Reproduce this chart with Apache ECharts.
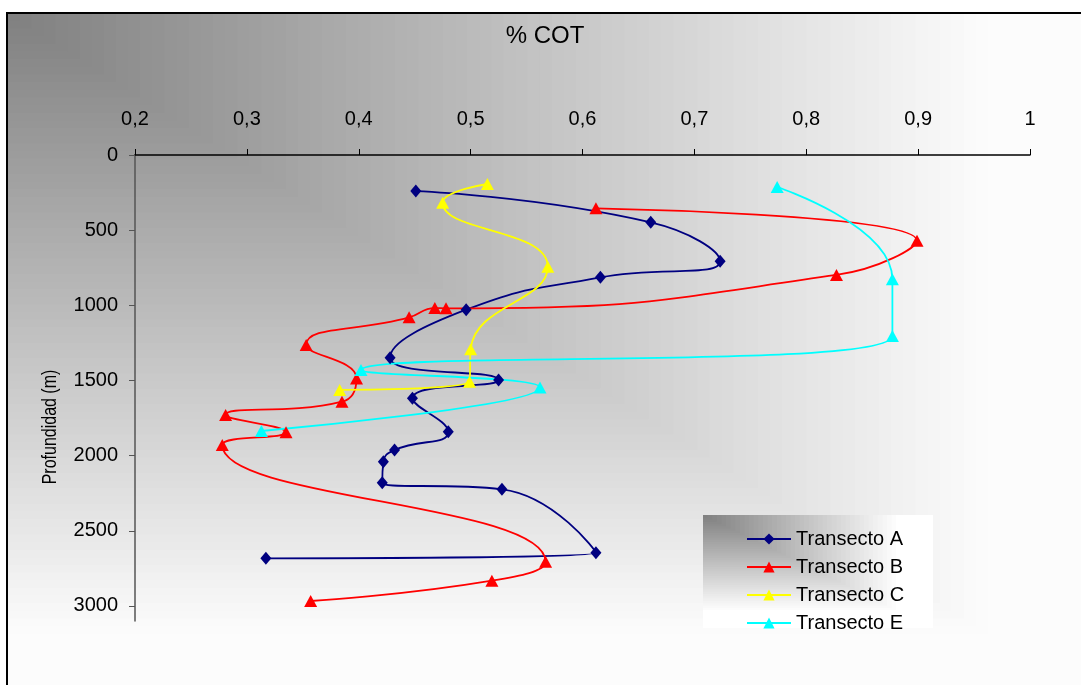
<!DOCTYPE html>
<html>
<head>
<meta charset="utf-8">
<title>% COT</title>
<script src="https://cdn.jsdelivr.net/npm/echarts@6/dist/echarts.min.js"></script>
<style>
	html, body { margin: 0; padding: 0; background: #fff; }
	#main { width: 1081px; height: 685px; }
</style>
</head>
<body>
<div id="main"></div>
<script>
// ticks del eje de profundidad
var depthTicks = [0, 500, 1000, 1500, 2000, 2500, 3000];

var seriesNames = ['Transecto A', 'Transecto B', 'Transecto C', 'Transecto E'];

// Transecto A
var cotA = [0.451, 0.661, 0.723, 0.616, 0.496, 0.428, 0.525, 0.448, 0.480, 0.432, 0.422, 0.421, 0.528, 0.612, 0.317];
var depthA = [240, 448, 707, 814, 1029, 1348, 1497, 1619, 1841, 1963, 2040, 2180, 2224, 2646, 2683];

// Transecto B
var cotB = [0.612, 0.899, 0.827, 0.478, 0.468, 0.445, 0.353, 0.398, 0.385, 0.281, 0.335, 0.278, 0.567, 0.519, 0.357];
var depthB = [355, 570, 798, 1020, 1018, 1080, 1264, 1486, 1641, 1730, 1845, 1929, 2706, 2832, 2967];

// Transecto C
var cotC = [0.515, 0.475, 0.569, 0.500, 0.499, 0.383];
var depthC = [193, 317, 743, 1293, 1508, 1563];

// Transecto E
var cotE = [0.774, 0.877, 0.877, 0.402, 0.562, 0.313];
var depthE = [213, 827, 1204, 1430, 1546, 1836];

function pairs(xs, ys) {
	var out = [];
	for (var i = 0; i < xs.length; i++) {
		out.push([xs[i], ys[i]]);
	}
	return out;
}

/**
 * degradado "desde la esquina" (bandas en L) hecho con rectangulos anidados
 */
function cornerFill(x, y, w, h, n, zBase, whiteAt, maxC) {
	var out = [];
	for (var i = n; i >= 1; i--) {
		var t = (i - 0.5) / n;
		var c = Math.round(128 + (maxC - 128) * Math.min(1, t / whiteAt));
		out.push({
			type: 'rect',
			silent: true,
			z: zBase + (n - i),
			shape: { x: x, y: y, width: w * i / n, height: h * i / n },
			style: { fill: 'rgb(' + c + ',' + c + ',' + c + ')' }
		});
	}
	return out;
}

var font = 'Liberation Sans, Arial, sans-serif';

var graphics = []
	.concat(cornerFill(7, 13, 1090, 690, 90, -300, 0.9, 252))
	.concat(cornerFill(703, 515, 230, 113, 50, -150, 0.85, 255));

graphics.push({
	type: 'rect',
	silent: true,
	z: -50,
	shape: { x: 7, y: 13, width: 1200, height: 800 },
	style: { fill: 'none', stroke: '#000', lineWidth: 2 }
});

// nombre del eje Y (texto algo estrecho como en el original)
graphics.push({
	type: 'text',
	silent: true,
	x: 50,
	y: 427,
	rotation: Math.PI / 2,
	scaleX: 0.8,
	style: {
		text: 'Profundidad (m)',
		fontSize: 20,
		fontFamily: font,
		fill: '#000',
		align: 'center',
		verticalAlign: 'middle'
	}
});

var myChart = echarts.init(document.getElementById('main'));

var option = {
	animation: false,
	textStyle: { fontFamily: font },
	title: {
		text: '% COT',
		left: 545,
		top: 24,
		padding: 0,
		textAlign: 'center',
		textStyle: { fontSize: 24, fontWeight: 'normal', color: '#000', fontFamily: font }
	},
	graphic: graphics,
	legend: {
		orient: 'vertical',
		left: 741,
		top: 524,
		itemWidth: 44,
		itemHeight: 14,
		itemGap: 8,
		textStyle: { fontSize: 20, color: '#000', fontFamily: font },
		data: seriesNames
	},
	grid: {
		left: 135,
		right: 51,
		top: 155,
		bottom: 64
	},
	xAxis: {
		type: 'value',
		position: 'top',
		min: 0.2,
		max: 1,
		interval: 0.1,
		axisLine: { onZero: false, lineStyle: { color: '#000', width: 1.5 } },
		axisTick: { length: 6, lineStyle: { color: '#000' } },
		axisLabel: {
			margin: 26,
			fontSize: 20,
			color: '#000',
			formatter: function(v) {
				return String(Math.round(v * 10) / 10).replace('.', ',');
			}
		},
		splitLine: { show: false }
	},
	yAxis: {
		type: 'value',
		inverse: true,
		min: 0,
		max: 3100,
		interval: 500,
		axisLine: { show: true, onZero: false, lineStyle: { color: '#555', width: 1.5 } },
		axisTick: { show: true, length: 6, customValues: depthTicks, lineStyle: { color: '#555' } },
		axisLabel: {
			margin: 17,
			fontSize: 20,
			color: '#000',
			customValues: depthTicks,
			formatter: function(v) {
				return String(v);
			}
		},
		splitLine: { show: false }
	},
	series: [{
		name: seriesNames[0],
		type: 'line',
		smooth: 0.5,
		symbol: 'diamond',
		symbolSize: [11, 13],
		itemStyle: { color: '#000080' },
		lineStyle: { color: '#000080', width: 1.8 },
		data: pairs(cotA, depthA)
	}, {
		name: seriesNames[1],
		type: 'line',
		smooth: 0.5,
		symbol: 'triangle',
		symbolSize: [13, 12],
		itemStyle: { color: '#ff0000' },
		lineStyle: { color: '#ff0000', width: 1.8 },
		data: pairs(cotB, depthB)
	}, {
		name: seriesNames[2],
		type: 'line',
		smooth: 0.5,
		symbol: 'triangle',
		symbolSize: [13, 12],
		itemStyle: { color: '#ffff00' },
		lineStyle: { color: '#ffff00', width: 1.8 },
		data: pairs(cotC, depthC)
	}, {
		name: seriesNames[3],
		type: 'line',
		smooth: 0.5,
		symbol: 'triangle',
		symbolSize: [13, 12],
		itemStyle: { color: '#00ffff' },
		lineStyle: { color: '#00ffff', width: 1.8 },
		data: pairs(cotE, depthE)
	}]
};

myChart.setOption(option);
</script>
</body>
</html>
